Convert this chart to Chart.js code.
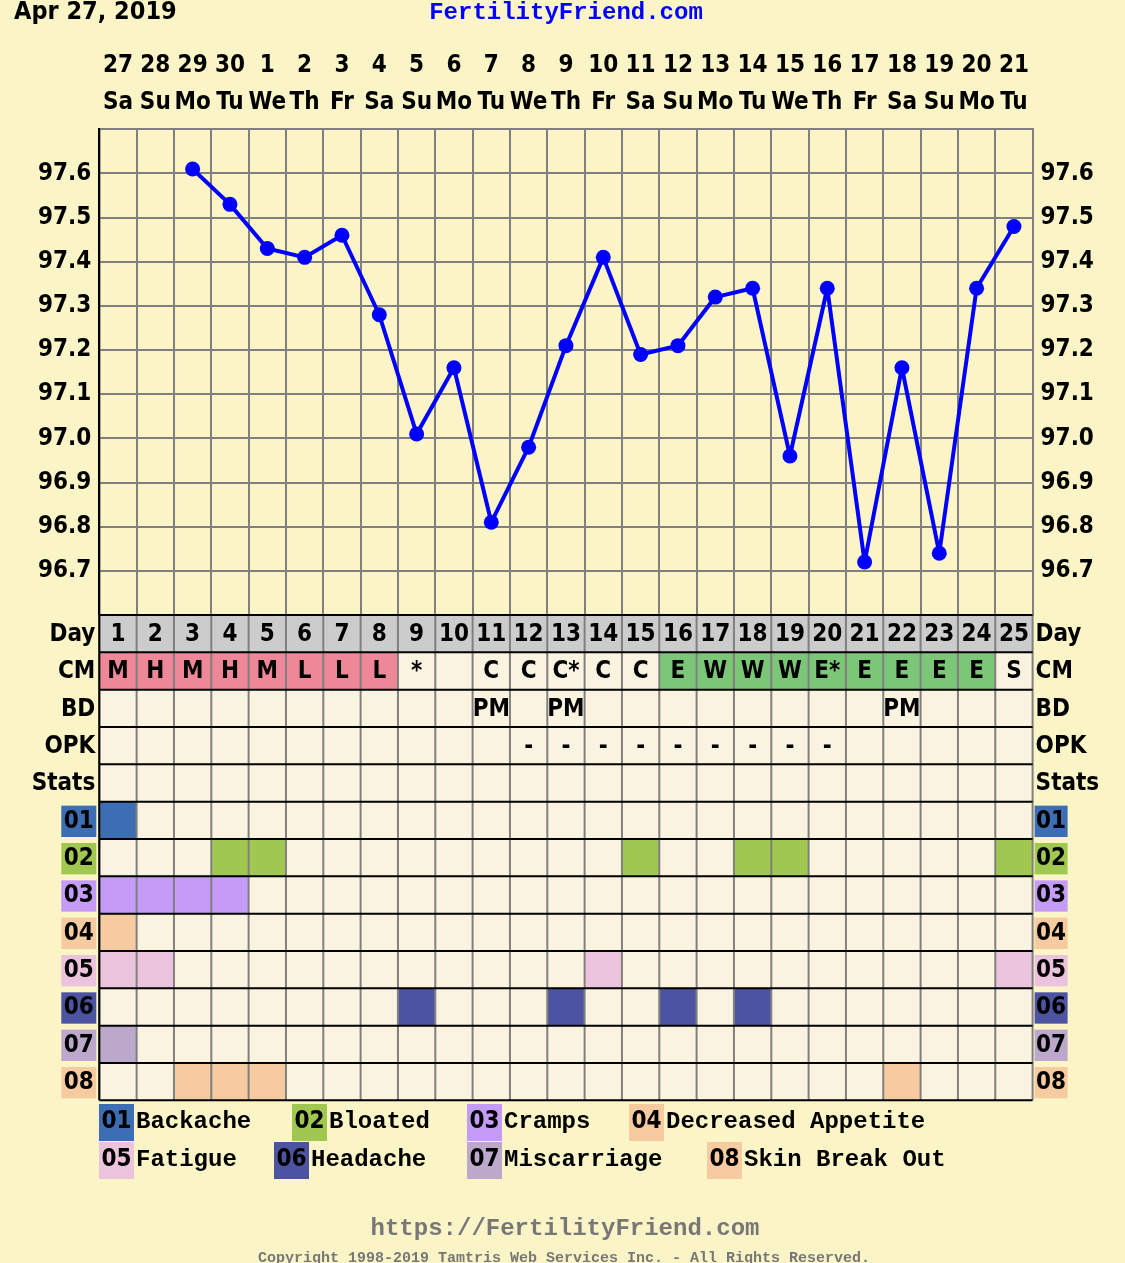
<!DOCTYPE html>
<html>
<head>
<meta charset="utf-8">
<title>Fertility chart</title>
<script src="https://cdn.jsdelivr.net/npm/chart.js@4.4.1/dist/chart.umd.min.js"></script>
<style>
  html, body { margin: 0; padding: 0; background: #FAF4C7; }
  canvas { display: block; }
</style>
</head>
<body>
<canvas id="ffChart" width="1125" height="1263"></canvas>
<script>
// chart data
const dates = ['27','28','29','30','1','2','3','4','5','6','7','8','9','10','11','12','13','14','15','16','17','18','19','20','21'];
const weekdays = ['Sa','Su','Mo','Tu','We','Th','Fr','Sa','Su','Mo','Tu','We','Th','Fr','Sa','Su','Mo','Tu','We','Th','Fr','Sa','Su','Mo','Tu'];
const cycleDays = [1,2,3,4,5,6,7,8,9,10,11,12,13,14,15,16,17,18,19,20,21,22,23,24,25];
const temps = [null, null, 97.61, 97.53, 97.43, 97.41, 97.46, 97.28, 97.01, 97.16, 96.81, 96.98, 97.21,
               97.41, 97.19, 97.21, 97.32, 97.34, 96.96, 97.34, 96.72, 97.16, 96.74, 97.34, 97.48];
const tempTicks = [96.7, 96.8, 96.9, 97.0, 97.1, 97.2, 97.3, 97.4, 97.5, 97.6];
const cmCodes = ['M','H','M','H','M','L','L','L','*','','C','C','C*','C','C','E','W','W','W','E*','E','E','E','E','S'];
const bdCodes = ['','','','','','','','','','','PM','','PM','','','','','','','','','PM','','',''];
const opkCodes = ['','','','','','','','','','','','-','-','-','-','-','-','-','-','-','','','','',''];
const symptomCodes = ['01','02','03','04','05','06','07','08'];
const symptomNames = ['Backache','Bloated','Cramps','Decreased Appetite','Fatigue','Headache','Miscarriage','Skin Break Out'];
const symptomDays = [
  [1],
  [4, 5, 15, 18, 19, 25],
  [1, 2, 3, 4],
  [1],
  [1, 2, 14, 25],
  [9, 13, 16, 18],
  [1],
  [3, 4, 5, 22]
];

// colours and fonts
const PAGE_BG = '#FAF4C7';
const CELL_BG = '#FAF3E0';
const DAY_BG = '#CCCCCC';
const CM_PINK = '#EE8899';
const CM_GREEN = '#7CC777';
const GRID = '#808080';
const symptomColors = ['#3D6EB4','#A0C850','#C49BF7','#F6CBA0','#ECC3DD','#4C54A2','#BBA8CB','#F6CBA0'];
const SANS = '"DejaVu Sans Condensed", "Liberation Sans", Arial, sans-serif';
const MONO = '"Liberation Mono", "DejaVu Sans Mono", monospace';

function cmColor(code) {
  if (!code) return CELL_BG;
  if ('MHL'.includes(code[0])) return CM_PINK;
  if ('EW'.includes(code[0])) return CM_GREEN;
  return CELL_BG;
}

function cellColor(row, i) {
  if (row === 0) return DAY_BG;
  if (row === 1) return cmColor(cmCodes[i]);
  if (row < 5) return CELL_BG;
  const s = row - 5;
  return symptomDays[s].includes(cycleDays[i]) ? symptomColors[s] : CELL_BG;
}

// draws page background, the table under the chart, legend and captions
const fertilityTable = {
  id: 'fertilityTable',
  beforeDraw(chart) {
    const ctx = chart.ctx;
    ctx.save();
    ctx.fillStyle = PAGE_BG;
    ctx.fillRect(0, 0, chart.width, chart.height);
    ctx.restore();
  },
  afterDraw(chart) {
    const ctx = chart.ctx;
    const xs = chart.scales.x;
    const area = chart.chartArea;
    const colW = xs.getPixelForValue(1) - xs.getPixelForValue(0);
    const rowH = colW;
    const top = area.bottom;
    const nRows = 5 + symptomCodes.length;
    const bottom = top + nRows * rowH;

    ctx.save();
    // cells
    for (let r = 0; r < nRows; r++) {
      const y = top + r * rowH;
      cycleDays.forEach((d, i) => {
        ctx.fillStyle = cellColor(r, i);
        ctx.fillRect(xs.getPixelForValue(i) - colW / 2, y, colW, rowH);
      });
    }
    // vertical lines
    ctx.strokeStyle = GRID;
    ctx.lineWidth = 2;
    for (let i = 0; i <= cycleDays.length; i++) {
      const x = area.left + i * colW;
      ctx.beginPath();
      ctx.moveTo(x, top);
      ctx.lineTo(x, bottom);
      ctx.stroke();
    }
    // horizontal lines
    ctx.strokeStyle = '#000';
    for (let r = 0; r <= nRows; r++) {
      const y = top + r * rowH;
      ctx.beginPath();
      ctx.moveTo(area.left, y);
      ctx.lineTo(area.right, y);
      ctx.stroke();
    }
    ctx.beginPath();
    ctx.moveTo(area.left, area.top);
    ctx.lineTo(area.left, bottom);
    ctx.stroke();

    // cell texts
    ctx.fillStyle = '#000';
    ctx.font = 'bold 24px ' + SANS;
    ctx.textAlign = 'center';
    ctx.textBaseline = 'middle';
    const rowTexts = [cycleDays, cmCodes, bdCodes, opkCodes];
    rowTexts.forEach((arr, r) => {
      const y = top + (r + 0.5) * rowH + 1;
      arr.forEach((t, i) => {
        if (t !== '') ctx.fillText(String(t), xs.getPixelForValue(i), y);
      });
    });

    // row labels both sides
    ['Day', 'CM', 'BD', 'OPK', 'Stats'].forEach((lbl, r) => {
      const y = top + (r + 0.5) * rowH + 1;
      ctx.textAlign = 'right';
      ctx.fillText(lbl, area.left - 4, y);
      ctx.textAlign = 'left';
      ctx.fillText(lbl, area.right + 3, y);
    });
    symptomCodes.forEach((code, s) => {
      const y = top + (5 + s) * rowH;
      ctx.fillStyle = symptomColors[s];
      ctx.fillRect(area.left - 38, y + 4, 35, rowH - 6);
      ctx.fillRect(area.right + 2, y + 4, 33, rowH - 6);
      ctx.fillStyle = '#000';
      ctx.textAlign = 'center';
      ctx.fillText(code, area.left - 20.5, y + rowH / 2 + 1);
      ctx.fillText(code, area.right + 18.5, y + rowH / 2 + 1);
    });

    // legend
    const slots = [[99, 1104], [292, 1104], [467, 1104], [629, 1104],
                   [99, 1142], [274, 1142], [467, 1142], [707, 1142]];
    symptomCodes.forEach((code, s) => {
      const [lx, ly] = slots[s];
      ctx.fillStyle = symptomColors[s];
      ctx.fillRect(lx, ly, 35, 37);
      ctx.fillStyle = '#000';
      ctx.textAlign = 'center';
      ctx.font = 'bold 24px ' + SANS;
      ctx.fillText(code, lx + 17.5, ly + 18);
      ctx.textAlign = 'left';
      ctx.font = 'bold 24px ' + MONO;
      ctx.fillText(symptomNames[s], lx + 37, ly + 18);
    });

    // captions
    ctx.textAlign = 'left';
    ctx.font = 'bold 25px ' + SANS;
    ctx.fillStyle = '#000';
    ctx.fillText('Apr 27, 2019', 14, 12);
    ctx.textAlign = 'center';
    ctx.font = 'bold 24px ' + MONO;
    ctx.fillStyle = '#0000FF';
    ctx.fillText('FertilityFriend.com', 566, 13);
    ctx.fillStyle = '#777';
    ctx.fillText('https://FertilityFriend.com', 565, 1229);
    ctx.font = 'bold 15px ' + MONO;
    ctx.fillText('Copyright 1998-2019 Tamtris Web Services Inc. - All Rights Reserved.', 564, 1258);
    ctx.restore();
  }
};

function tempLabel(v) {
  const r = Math.round(v * 10) / 10;
  return tempTicks.includes(r) ? r.toFixed(1) : '';
}

const tickFont = { family: SANS, size: 24, weight: 'bold' };

new Chart(document.getElementById('ffChart'), {
  type: 'line',
  data: {
    labels: cycleDays.map(String),
    datasets: [{
      data: temps,
      borderColor: '#0000FF',
      backgroundColor: '#0000FF',
      borderWidth: 4,
      borderJoinStyle: 'round',
      pointRadius: 7.5,
      pointBackgroundColor: '#0000FF',
      pointBorderWidth: 0,
      tension: 0
    }]
  },
  options: {
    responsive: false,
    animation: false,
    devicePixelRatio: 1,
    layout: { padding: { top: 0, left: 0, right: 0, bottom: 648 } },
    plugins: { legend: { display: false }, tooltip: { enabled: false } },
    scales: {
      x: {
        type: 'category',
        position: 'top',
        offset: true,
        grid: { offset: true, color: GRID, lineWidth: 2, drawTicks: false },
        border: { color: GRID, width: 2 },
        ticks: {
          autoSkip: false,
          maxRotation: 0,
          minRotation: 0,
          color: '#000',
          padding: 8,
          font: { family: SANS, size: 24, weight: 'bold', lineHeight: 1.54 },
          callback: (v, i) => [dates[i], weekdays[i]]
        },
        afterFit: s => { s.height = 129.3; }
      },
      y: {
        position: 'left',
        min: 96.6,
        max: 97.7,
        grid: { color: GRID, lineWidth: 2, drawTicks: false },
        border: { color: '#000', width: 2 },
        ticks: { stepSize: 0.1, color: '#000', padding: 8, font: tickFont, callback: tempLabel },
        afterFit: s => { s.width = 99.3; }
      },
      y2: {
        position: 'right',
        min: 96.6,
        max: 97.7,
        grid: { display: false, drawTicks: false },
        border: { color: GRID, width: 2 },
        ticks: { stepSize: 0.1, color: '#000', padding: 8, font: tickFont, callback: tempLabel },
        afterFit: s => { s.width = 92.4; }
      }
    }
  },
  plugins: [fertilityTable]
});
</script>
</body>
</html>
